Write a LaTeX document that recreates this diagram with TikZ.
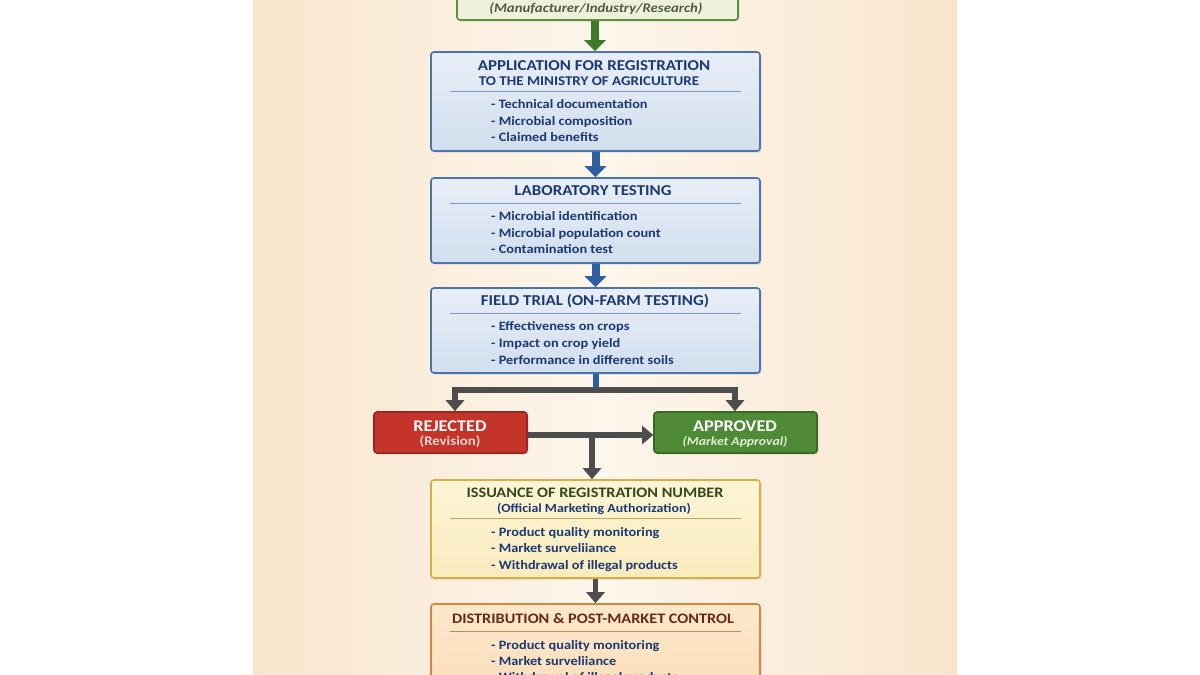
\documentclass[tikz,border=0pt]{standalone}
\usepackage{fontspec}
\setmainfont[FakeStretch=1.12]{Carlito}
\usetikzlibrary{arrows.meta,shadows,calc}
\definecolor{bgedge}{HTML}{F9E5CD}
\definecolor{bgmid}{HTML}{FDF6EC}
\definecolor{bluebd}{HTML}{4A74AE}
\definecolor{bluetop}{HTML}{E8EEF7}
\definecolor{bluebot}{HTML}{D2DEEE}
\definecolor{navy}{HTML}{1B3A73}
\definecolor{sepblue}{HTML}{7F97BA}
\definecolor{srcfill}{HTML}{EEF2DA}
\definecolor{srcbd}{HTML}{5E8E3E}
\definecolor{srctext}{HTML}{4D5F3D}
\definecolor{greenarr}{HTML}{3E7A2A}
\definecolor{bluearr}{HTML}{2F5FA0}
\definecolor{grayarr}{HTML}{4D4D4D}
\definecolor{redfill}{HTML}{C4342A}
\definecolor{redbd}{HTML}{9A2820}
\definecolor{redsub}{HTML}{F6D5CF}
\definecolor{grfill}{HTML}{4F8A36}
\definecolor{grbd}{HTML}{386A24}
\definecolor{grsub}{HTML}{E2EED5}
\definecolor{yeltop}{HTML}{FDF5D6}
\definecolor{yelbot}{HTML}{FAEBBE}
\definecolor{yelbd}{HTML}{D6AE48}
\definecolor{yeltitle}{HTML}{34481E}
\definecolor{yelsep}{HTML}{C9A852}
\definecolor{ortop}{HTML}{FCE8CC}
\definecolor{orbot}{HTML}{FADDB8}
\definecolor{orbd}{HTML}{D8843A}
\definecolor{ortitle}{HTML}{6A2A10}
\definecolor{orsep}{HTML}{C98A4E}
\tikzset{
  boxbase/.style={rectangle, rounded corners=3pt, line width=1.6pt, inner sep=0pt,
    drop shadow={opacity=0.22, shadow xshift=1.5pt, shadow yshift=-1.5pt}},
  bluebox/.style={boxbase, draw=bluebd, top color=bluetop, bottom color=bluebot,
    minimum width=329pt},
  yelbox/.style={boxbase, draw=yelbd, top color=yeltop, bottom color=yelbot,
    minimum width=329pt},
  orbox/.style={boxbase, draw=orbd, top color=ortop, bottom color=orbot,
    minimum width=329pt},
  srcbox/.style={boxbase, draw=srcbd, fill=srcfill, minimum width=281pt},
  redbox/.style={boxbase, draw=redbd, fill=redfill, minimum width=153pt, minimum height=41pt},
  grbox/.style={boxbase, draw=grbd, fill=grfill, minimum width=163pt, minimum height=41pt},
  ttl/.style={anchor=base, inner sep=0pt, font=\fontsize{15.1}{16}\selectfont\bfseries},
  ttlsmall/.style={anchor=base, inner sep=0pt, font=\fontsize{14.5}{16}\selectfont\bfseries},
  subttl/.style={anchor=base, inner sep=0pt, font=\fontsize{13.4}{15}\selectfont\bfseries},
  bul/.style={anchor=base west, inner sep=0pt, text=navy, font=\fontsize{12.8}{14}\selectfont\bfseries},
  decttl/.style={anchor=base, inner sep=0pt, text=white, font=\fontsize{16.3}{18}\selectfont\bfseries},
  sepline/.style={line width=1pt},
  greenarrow/.style={draw=greenarr, line width=8pt, -{Triangle[width=21pt,length=11pt]}},
  bluearrow/.style={draw=bluearr, line width=8pt, -{Triangle[width=21pt,length=11pt]}},
  grayarrow/.style={draw=grayarr, line width=5.5pt, -{Triangle[width=18pt,length=11pt]}},
  grayline/.style={draw=grayarr, line width=5.5pt},
  blueline/.style={draw=bluearr, line width=6pt}
}
\begin{document}
\begin{tikzpicture}[x=1pt,y=-1pt]
\useasboundingbox (0,0) rectangle (1200,675);
\clip (0,0) rectangle (1200,675);
\fill[white] (0,0) rectangle (1200,675);
% background panel
\shade[left color=bgedge, right color=bgedge, middle color=bgmid] (253,0) rectangle (957,675);

% boxes
\node[srcbox, minimum height=50pt] (src) at (597.5,-5) {};
\node[bluebox, minimum height=99pt] (app) at (595.5,101.5) {};
\node[bluebox, minimum height=85pt] (lab) at (595.5,220.5) {};
\node[bluebox, minimum height=85pt] (field) at (595.5,330.5) {};
\node[redbox] (rej) at (450.5,432.5) {};
\node[grbox] (appr) at (735.5,432.5) {};
\node[yelbox, minimum height=98pt] (iss) at (595.5,529) {};
\node[orbox, minimum height=100pt] (dist) at (595.5,654) {};

% source text
\node[anchor=base, inner sep=0pt, text=srctext, font=\fontsize{13.2}{15}\selectfont\bfseries\itshape] (srct) at (596,12) {(Manufacturer/Industry/Research)};

% application
\node[ttl, text=navy] (appt1) at (594,70) {APPLICATION FOR REGISTRATION};
\node[subttl, text=navy] (appt2) at (589,85) {TO THE MINISTRY OF AGRICULTURE};
\draw[sepline, sepblue] (450,91) -- (741,91);
\node[bul] (appb1) at (491,108) {- Technical documentation};
\node[bul] (appb2) at (491,125) {- Microbial composition};
\node[bul] (appb3) at (491,141) {- Claimed benefits};

% lab
\node[ttl, text=navy] (labt) at (593,195) {LABORATORY TESTING};
\draw[sepline, sepblue] (450,203) -- (741,203);
\node[bul] (labb1) at (491,220) {- Microbial identification};
\node[bul] (labb2) at (491,237) {- Microbial population count};
\node[bul] (labb3) at (491,253) {- Contamination test};

% field
\node[ttl, text=navy] (fldt) at (595,305) {FIELD TRIAL (ON-FARM TESTING)};
\draw[sepline, sepblue] (450,313) -- (741,313);
\node[bul] (fldb1) at (491,330) {- Effectiveness on crops};
\node[bul] (fldb2) at (491,347) {- Impact on crop yield};
\node[bul] (fldb3) at (491,364) {- Performance in different soils};

% rejected / approved
\node[decttl] (rejt) at (450,431) {REJECTED};
\node[anchor=base, inner sep=0pt, text=redsub, font=\fontsize{13.2}{15}\selectfont\bfseries] (rejs) at (450,445) {(Revision)};
\node[decttl] (aprt) at (735,431) {APPROVED};
\node[anchor=base, inner sep=0pt, text=grsub, font=\fontsize{12.2}{14}\selectfont\bfseries\itshape] (aprs) at (735,445) {(Market Approval)};

% issuance
\node[ttlsmall, text=yeltitle] (isst) at (595,497) {ISSUANCE OF REGISTRATION NUMBER};
\node[anchor=base, inner sep=0pt, text=navy, font=\fontsize{12.4}{14}\selectfont\bfseries] (isss) at (594,512) {(Official Marketing Authorization)};
\draw[sepline, yelsep] (450,518) -- (741,518);
\node[bul] (issb1) at (491,536) {- Product quality monitoring};
\node[bul] (issb2) at (491,552) {- Market surveliiance};
\node[bul] (issb3) at (491,569) {- Withdrawal of illegal products};

% distribution
\node[ttlsmall, text=ortitle] (distt) at (593,623) {DISTRIBUTION \& POST-MARKET CONTROL};
\draw[sepline, orsep] (450,631) -- (741,631);
\node[bul] (distb1) at (491,649) {- Product quality monitoring};
\node[bul] (distb2) at (491,665) {- Market surveliiance};
\node[bul] (distb3) at (491,681) {- Withdrawal of illegal products};

% connectors
\coordinate (split) at (595.5,390);
\coordinate (jL) at (455,390);
\coordinate (jR) at (735,390);
\coordinate (jm) at (592,435);
\draw[greenarrow] (src.south -| 595,0) -- (app.north -| 595,0);
\draw[bluearrow] (app.south) -- (lab.north);
\draw[bluearrow] (lab.south) -- (field.north);
\draw[blueline] (field.south) -- ($(split)+(0,2.75)$);
\draw[grayline] ($(jL)+(-2.75,0)$) -- ($(jR)+(2.75,0)$);
\draw[grayarrow] (jL) -- (jL |- rej.north);
\draw[grayarrow] (jR) -- (jR |- appr.north);
\draw[grayarrow] (rej.east |- jm) -- (appr.west |- jm);
\draw[grayarrow] (jm) -- (jm |- iss.north);
\draw[grayarrow] (iss.south) -- (dist.north);
\end{tikzpicture}
\end{document}
